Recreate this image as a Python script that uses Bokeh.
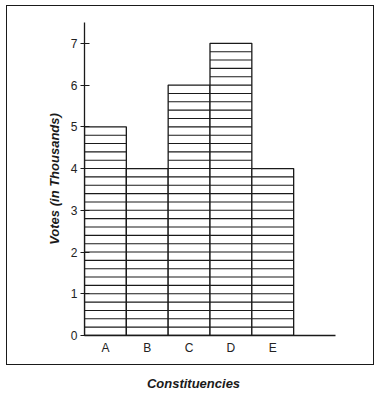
import numpy as np
from bokeh.plotting import figure
from bokeh.models import FixedTicker, Div
from bokeh.layouts import column
from bokeh.embed import file_html
from bokeh.resources import INLINE

categories = ["A", "B", "C", "D", "E"]
votes = [5, 4, 6, 7, 4]
y_ticks = [0, 1, 2, 3, 4, 5, 6, 7]
hatch_step = 0.2

FONT = "Liberation Sans"
INK = "#1a1a1a"

x = np.arange(len(categories), dtype=float)

p = figure(width=368, height=360, x_range=(0, 6), y_range=(0, 7.5),
           output_backend="svg", toolbar_location=None,
           min_border_left=77, min_border_right=40,
           min_border_top=16, min_border_bottom=31)

p.quad(left=x, right=x + 1, bottom=0, top=votes,
       fill_color="white", line_color=INK, line_width=1.3)

x0, x1, ys = [], [], []
for xi, v in zip(x, votes):
    n = int(round(v / hatch_step))
    for k in range(1, n):
        x0.append(xi)
        x1.append(xi + 1)
        ys.append(k * hatch_step)
p.segment(x0=x0, y0=ys, x1=x1, y1=ys, line_color=INK, line_width=1.1)

p.grid.visible = False
p.outline_line_color = None

for ax in (p.xaxis[0], p.yaxis[0]):
    ax.axis_line_color = INK
    ax.axis_line_width = 1.3
    ax.major_tick_line_color = INK
    ax.major_tick_line_width = 1.2
    ax.minor_tick_line_color = None
    ax.major_label_text_font = FONT
    ax.major_label_text_font_size = "12px"
    ax.major_label_text_color = "#222222"

p.yaxis.ticker = FixedTicker(ticks=y_ticks)
p.yaxis.major_tick_in = 5
p.yaxis.major_tick_out = 4
p.yaxis.major_label_standoff = 3
p.yaxis.axis_label = "Votes (in Thousands)"
p.yaxis.axis_label_text_font = FONT
p.yaxis.axis_label_text_font_size = "13px"
p.yaxis.axis_label_text_font_style = "bold italic"
p.yaxis.axis_label_text_color = INK
p.yaxis.axis_label_standoff = 6

centers = [float(c) + 0.5 for c in x]
p.xaxis.ticker = FixedTicker(ticks=centers)
p.xaxis.major_label_overrides = {c: lab for c, lab in zip(centers, categories)}
p.xaxis.major_tick_in = 0
p.xaxis.major_tick_out = 0
p.xaxis.major_label_standoff = 5

p.styles = {"border": "1.5px solid #1a1a1a", "margin-left": "6px", "margin-top": "5px"}

title = Div(text="<b><i>Constituencies</i></b>", width=371, height=24,
            styles={"font-family": FONT, "font-size": "13px", "color": INK,
                    "text-align": "center", "margin-left": "8px", "margin-top": "10px"})

layout = column(p, title)
open("out.html", "w").write(file_html(layout, INLINE))
